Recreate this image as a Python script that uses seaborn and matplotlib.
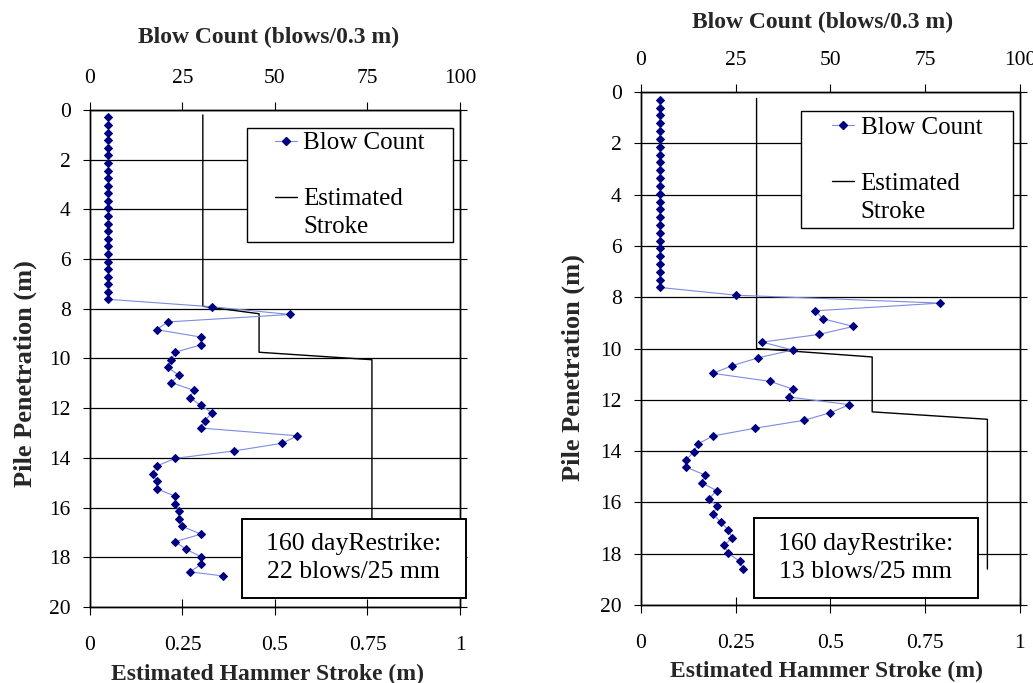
import matplotlib; matplotlib.use("Agg")
import matplotlib.pyplot as plt
import seaborn as sns
import pandas as pd
from matplotlib.lines import Line2D
from matplotlib.patches import Rectangle

# depth of each blow-count reading (m), shared by both records
DEPTH = [0.30, 0.61, 0.91, 1.22, 1.52, 1.83, 2.13, 2.44, 2.74, 3.05,
         3.35, 3.66, 3.96, 4.27, 4.57, 4.88, 5.18, 5.49, 5.79, 6.10,
         6.40, 6.71, 7.01, 7.32, 7.62, 7.92, 8.23, 8.53, 8.84, 9.14,
         9.45, 9.75, 10.06, 10.36, 10.67, 10.97, 11.28, 11.58, 11.89, 12.19,
         12.50, 12.80, 13.11, 13.41, 13.72, 14.02, 14.33, 14.63, 14.94, 15.24,
         15.54, 15.85, 16.15, 16.46, 16.76, 17.07, 17.37, 17.68, 17.98, 18.29,
         18.59]
DEPTH_L_EXTRA = [18.75]

BLOWS_L = [5, 5, 5, 5, 5, 5, 5, 5, 5, 5, 5, 5, 5, 5, 5, 5, 5, 5, 5, 5, 5, 5, 5, 5, 5,
           33, 54, 21, 18, 30, 30, 23, 22, 21, 24, 22, 28, 27, 30, 33, 31, 30,
           56, 52, 39, 23, 18, 17, 18, 18, 23, 23, 24, 24, 25, 30, 23, 26, 30,
           30, 27, 36]
BLOWS_R = [5, 5, 5, 5, 5, 5, 5, 5, 5, 5, 5, 5, 5, 5, 5, 5, 5, 5, 5, 5, 5, 5, 5, 5, 5,
           25, 79, 46, 48, 56, 47, 32, 40, 31, 24, 19, 34, 40, 39, 55, 50, 43,
           30, 19, 15, 14, 12, 12, 17, 16, 20, 18, 20, 19, 21, 23, 24, 22, 23,
           26, 27]

STROKE_DEPTH_L = [0.2, 7.9, 8.2, 9.75, 10.05, 18.6]
STROKE_L = [0.305, 0.305, 0.457, 0.457, 0.762, 0.762]
STROKE_DEPTH_R = [0.25, 10.0, 10.33, 12.47, 12.76, 18.6]
STROKE_R = [0.305, 0.305, 0.610, 0.610, 0.914, 0.914]

NOTES = ["160 dayRestrike:\n22 blows/25 mm", "160 dayRestrike:\n13 blows/25 mm"]
STROKE_TICKS = [0, 0.25, 0.5, 0.75, 1]
STROKE_TICKLABELS = ["0", "0.25", "0.5", "0.75", "1"]
BLOW_TICKS = [0, 25, 50, 75, 100]

NAVY = "#000080"
LBLUE = "#7D8BE0"

sns.set_theme(style="white")
plt.rcParams["font.family"] = ["Liberation Serif", "DejaVu Serif"]


def panel(ax, depth, blows, s_depth, stroke, note, leg_box, note_box, ylab_xy, top_xy, bot_xy):
    sns.lineplot(x=stroke, y=s_depth, ax=ax, sort=False, estimator=None, orient="y",
                 color="black", lw=1.0, zorder=2)
    ax.set_xlim(0, 1); ax.set_xticks(STROKE_TICKS); ax.set_xticklabels(STROKE_TICKLABELS)
    ax.set_yticks(range(0, 21, 2))
    ax.yaxis.grid(True, color="black", lw=0.9); ax.xaxis.grid(False)
    ax.set_axisbelow(True)
    ax.tick_params(axis="x", direction="inout", length=11, width=0.8, pad=15.5,
                   labelsize=15.5, color="black", labelcolor="black")
    ax.tick_params(axis="y", direction="out", length=5, width=0.8, pad=9.0, left=True, right=True,
                   labelsize=15.5, color="black", labelcolor="black")
    ax.set_xlabel("Estimated Hammer Stroke (m)", fontsize=17, fontweight="bold")
    ax.set_ylabel("Pile Penetration (m)", fontsize=19, fontweight="bold")
    ax.xaxis.set_label_coords(*bot_xy); ax.yaxis.set_label_coords(*ylab_xy)

    ax2 = ax.twiny()
    df = pd.DataFrame({"depth": depth, "blows": blows})
    sns.lineplot(data=df, x="blows", y="depth", ax=ax2, sort=False, estimator=None, orient="y",
                 color=LBLUE, lw=0.8, marker="D", markersize=4.2,
                 markerfacecolor=NAVY, markeredgecolor=NAVY, zorder=3)
    ax2.set_xlim(0, 100); ax2.set_xticks(BLOW_TICKS)
    ax.set_ylim(20, 0)
    ax2.tick_params(axis="x", direction="out", length=6, width=0.8, pad=10.0,
                    labelsize=15.5, color="black", labelcolor="black")
    ax2.set_xlabel("Blow Count (blows/0.3 m)", fontsize=17, fontweight="bold")
    ax2.xaxis.set_label_coords(*top_xy)
    for a in (ax, ax2):
        for sp in a.spines.values():
            sp.set_color("black"); sp.set_linewidth(1.0)

    # legend box
    x0, y0, x1, y1 = leg_box
    ax2.add_patch(Rectangle((x0, y0), x1 - x0, y1 - y0, transform=ax2.transAxes,
                            fc="white", ec="black", lw=1.0, zorder=5, clip_on=False))
    handles = [Line2D([], [], color=LBLUE, lw=0.8, marker="D", ms=4.2, mfc=NAVY, mec=NAVY),
               Line2D([], [], ls="none"),
               Line2D([], [], color="black", lw=1.0),
               Line2D([], [], ls="none")]
    leg = ax2.legend(handles, ["Blow Count", " ", "Estimated", "Stroke"], loc="center",
                     bbox_to_anchor=((x0 + x1) / 2, (y0 + y1) / 2), frameon=False, fontsize=18,
                     handlelength=0.9, handletextpad=0.25, labelspacing=0.22,
                     borderpad=0, borderaxespad=0)
    leg.set_zorder(6)
    for t in leg.get_texts(): t.set_color("black")

    # restrike note
    x0, y0, x1, y1 = note_box
    ax2.add_patch(Rectangle((x0, y0), x1 - x0, y1 - y0, transform=ax2.transAxes,
                            fc="white", ec="black", lw=1.4, zorder=5, clip_on=False))
    ax2.text((x0 + x1) / 2, (y0 + y1) / 2, note, transform=ax2.transAxes, ha="center",
             va="center", fontsize=18.5, linespacing=1.35, color="black", zorder=6)


fig = plt.figure(figsize=(10.33, 6.83), dpi=100)
axL = fig.add_axes([0.0871, 0.1113, 0.3582, 0.7277])
axR = fig.add_axes([0.6205, 0.1142, 0.3669, 0.7511])

panel(axL, DEPTH + DEPTH_L_EXTRA, BLOWS_L, STROKE_DEPTH_L, STROKE_L, NOTES[0],
      (0.424, 0.735, 0.98, 0.963), (0.41, 0.0175, 1.016, 0.178),
      (-0.143, 0.469), (0.482, 1.135), (0.481, -0.114))
panel(axR, DEPTH, BLOWS_R, STROKE_DEPTH_R, STROKE_R, NOTES[1],
      (0.423, 0.734, 0.981, 0.962), (0.297, 0.013, 0.89, 0.169),
      (-0.147, 0.462), (0.48, 1.125), (0.489, -0.108))

fig.savefig("out.png", dpi=100, facecolor="white")
